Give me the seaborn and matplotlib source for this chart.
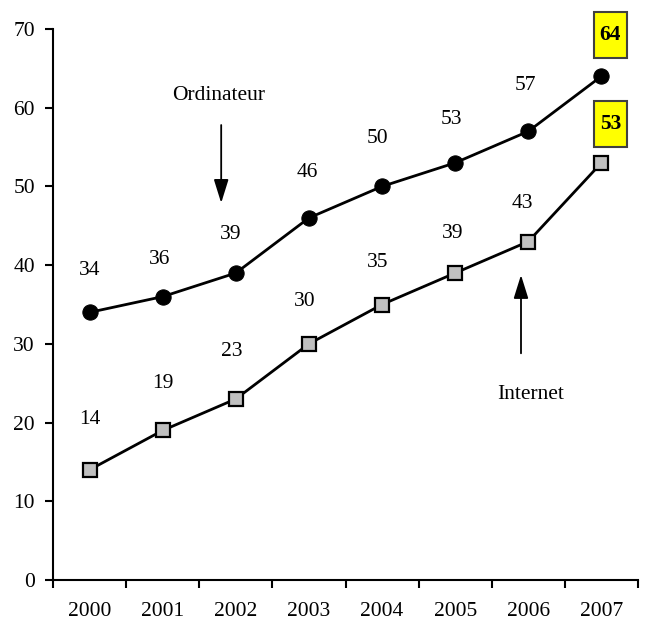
import matplotlib
matplotlib.use("Agg")
import matplotlib.pyplot as plt
import numpy as np
import pandas as pd
import seaborn as sns
from matplotlib.path import Path

years = ["2000", "2001", "2002", "2003", "2004", "2005", "2006", "2007"]
ordinateur = [34, 36, 39, 46, 50, 53, 57, 64]
internet = [14, 19, 23, 30, 35, 39, 43, 53]
y_ticks = [0, 10, 20, 30, 40, 50, 60, 70]

# décalages des étiquettes (en pixels) — placés à la main comme dans l'original
ord_off = [42, 37, 39, 45, 48, 43, 46, 41]
int_off = [50, 47, 47, 42, 42, 40, 38, 39]
ord_dx = [0, -3, -5, -2, -5, -4, -3, 9]
int_dx = [0, 0, -4, -4, -4, -3, -6, 9]

sns.set_style("ticks")
plt.rcParams["font.family"] = ["Liberation Serif", "DejaVu Serif"]
plt.rcParams.update({"text.color": "black", "xtick.color": "black", "ytick.color": "black",
                     "axes.edgecolor": "black", "axes.labelcolor": "black"})
FS = 15.5


def tall_box(x0, y0, width, height, mutation_size):
    # boîte plus haute que large, comme les étiquettes jaunes d'Excel
    px, py = 0.28 * mutation_size, 0.6 * mutation_size
    x0, y0 = x0 - px, y0 - py
    x1, y1 = x0 + width + 2 * px, y0 + height + 2 * py
    return Path([(x0, y0), (x1, y0), (x1, y1), (x0, y1), (x0, y0)], closed=True)


df = pd.DataFrame({"idx": np.arange(len(years)), "Ordinateur": ordinateur, "Internet": internet})

fig = plt.figure(figsize=(6.47, 6.21), dpi=100)
ax = fig.add_axes([53 / 647, 41 / 621, 585 / 647, 551 / 621])

sns.lineplot(data=df, x="idx", y="Ordinateur", ax=ax, color="black", linewidth=2,
             marker="o", markersize=11, markerfacecolor="black", markeredgecolor="black")
sns.lineplot(data=df, x="idx", y="Internet", ax=ax, color="black", linewidth=2,
             marker="s", markersize=10.5, markerfacecolor="#c0c0c0", markeredgecolor="black",
             markeredgewidth=1.6)

ax.set_xlim(-0.5, len(years) - 0.5)
ax.set_ylim(0, 70)
ax.set_yticks(y_ticks)
ax.set_xticks(np.arange(len(years)))
ax.set_xticklabels(years)
ax.set_xticks(np.arange(len(years) + 1) - 0.5, minor=True)
ax.tick_params(axis="x", which="major", length=0, pad=16, labelsize=FS)
ax.tick_params(axis="x", which="minor", length=6, width=1.5, direction="out")
ax.tick_params(axis="y", length=6, width=1.5, labelsize=FS, pad=7)
ax.set_xlabel("")
ax.set_ylabel("")
for s in ["top", "right"]:
    ax.spines[s].set_visible(False)
for s in ["left", "bottom"]:
    ax.spines[s].set_linewidth(1.5)

n = len(years)
for i in range(n):
    last = i == n - 1
    for vals, offs, dxs in [(ordinateur, ord_off, ord_dx), (internet, int_off, int_dx)]:
        kw = dict(ha="center", va="center", fontsize=FS, textcoords="offset pixels")
        if last:
            kw.update(fontweight="bold",
                      bbox=dict(boxstyle=tall_box, fc="yellow", ec="#404040", lw=1.5))
        ax.annotate(str(vals[i]), (i, vals[i]), xytext=(dxs[i], offs[i]), **kw)

# flèches + légendes
arrow = dict(arrowstyle="-|>,head_length=0.8,head_width=0.25", color="black",
             lw=1.3, mutation_scale=18, shrinkA=0, shrinkB=0)
ax.annotate("", xy=(1.80, 47.9), xytext=(1.80, 57.8), arrowprops=arrow)
ax.text(1.76, 61.6, "Ordinateur", ha="center", va="center", fontsize=FS)
ax.annotate("", xy=(5.90, 38.75), xytext=(5.90, 28.8), arrowprops=arrow)
ax.text(6.03, 23.6, "Internet", ha="center", va="center", fontsize=FS)

fig.savefig("out.png", dpi=100)
